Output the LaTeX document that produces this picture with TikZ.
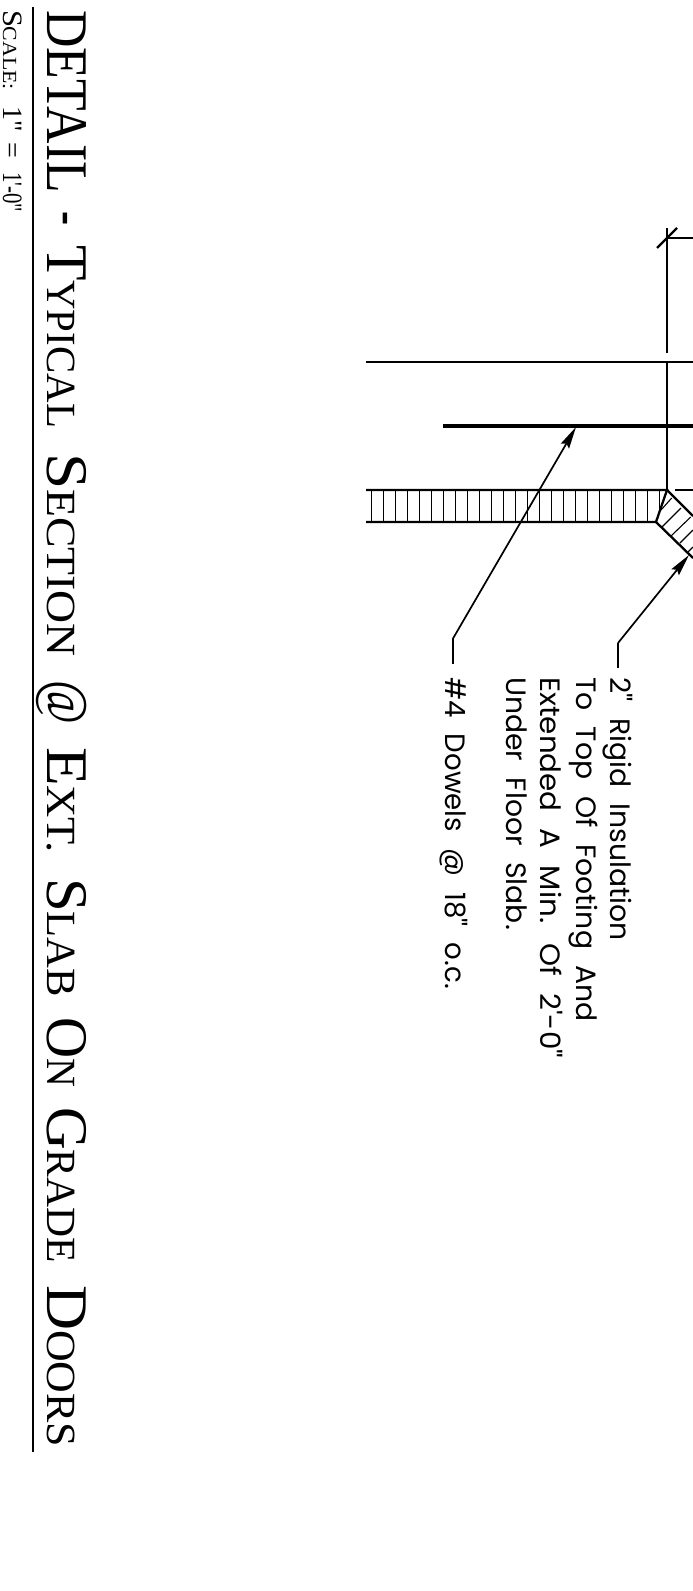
\documentclass[tikz,border=0pt]{standalone}
\usepackage{fontspec}
\usepackage{graphicx}
\usetikzlibrary{arrows.meta}
\setmainfont[Ligatures=TeXOff]{Liberation Serif}
\newfontfamily\notefont[Ligatures=TeXOff,WordSpace=2.2]{Poppins}
\newcommand{\cp}[2]{{\fontsize{#1}{#1}\selectfont #2}}
\newcommand{\fitw}[2]{\resizebox{#1pt}{\height}{#2}}
\tikzset{
  x=1pt,y=-1pt,
  wall/.style={line width=2.3pt,black},
  thickbar/.style={line width=3.4pt,black},
  hatchline/.style={line width=1.1pt,black},
  leader/.style={line width=1.7pt,black},
  leadarrow/.style={leader,-{Stealth[length=22pt,width=9.5pt,inset=3pt]}},
  note/.style={inner sep=0pt,outer sep=0pt,rotate=-90,anchor=base west,font=\notefont\fontsize{28}{28}\selectfont},
  titlelabel/.style={inner sep=0pt,outer sep=0pt,rotate=-90,anchor=base west},
}
\begin{document}
\begin{tikzpicture}
\useasboundingbox (0,0) rectangle (693,1591);
\clip (0,0) rectangle (693,1591);
% key points
\coordinate (p1) at (667,490);
\coordinate (p2) at (656,522);
\coordinate (t1) at (366,490);
\coordinate (t2) at (366,522);
\coordinate (d1) at (693,516);
\coordinate (d2) at (693,558);
% main lines
\draw[wall] (366,362) -- (693,362);
\draw[thickbar] (443,426) -- (693,426);
\draw[wall] (667,362) -- (p1);
\draw[wall] (667,228) -- (667,353);
\draw[wall] (667,238) -- (693,238);
\draw[wall] (657,248) -- (677,228);
\draw[wall] (675,490) -- (693,490);
% insulation
\foreach \i in {0,...,23} \draw[hatchline] ({371.3+12*\i},490) -- ({371.3+12*\i},522);
\draw[hatchline] (659.3,490) -- (659.3,512);
\foreach \a/\b/\c/\e in {671.7/498/661/510,681/508/662/527,690.7/517/671/536,693/530/680/543,693/547/688/552} \draw[hatchline] (\a,\b) -- (\c,\e);
\draw[wall] (t1) -- (p1) -- (p2) -- (t2);
\draw[wall] (p1) -- (d1);
\draw[wall] (p2) -- (d2);
% notes
\node[note] (nd) at (445,677) {\fitw{312}{\#4 Dowels @ 18" o.c.}};
\node[note] (n1) at (610,677) {\fitw{264}{2" Rigid Insulation}};
\node[note] (n2) at (576,677) {\fitw{345}{To Top Of Footing And}};
\node[note] (n3) at (540,677) {\fitw{381}{Extended A Min. Of 2'-0"}};
\node[note] (n4) at (506,677) {\fitw{253}{Under Floor Slab.}};
\coordinate (e1) at (452.7,639);
\coordinate (s1) at (452.7,664);
\coordinate (a1) at (576,427);
\coordinate (e2) at (618,643);
\coordinate (s2) at (618,668);
\coordinate (a2) at (689,555);
\draw[leader] (s1) -- (e1);
\draw[leadarrow] (e1) -- (a1);
\draw[leader] (s2) -- (e2);
\draw[leadarrow] (e2) -- (a2);
% title
\node[titlelabel] (tdetail) at (47,10) {\fitw{183}{\cp{59}{DETAIL}}};
\node[titlelabel] (tdash) at (51,211) {\fitw{14}{\cp{59}{-}}};
\node[titlelabel] (ttyp) at (47,245) {\fitw{183}{\cp{59}{T}\cp{41.5}{YPICAL}}};
\node[titlelabel] (tsec) at (47,453) {\fitw{204}{\cp{59}{S}\cp{41.5}{ECTION}}};
\node[titlelabel] (tat) at (47,680) {\fitw{44}{\cp{59}{@}}};
\node[titlelabel] (text) at (47,747) {\fitw{106}{\cp{59}{E}\cp{41.5}{XT.}}};
\node[titlelabel] (tslab) at (47,878) {\fitw{119}{\cp{59}{S}\cp{41.5}{LAB}}};
\node[titlelabel] (ton) at (47,1017) {\fitw{70}{\cp{59}{O}\cp{41.5}{N}}};
\node[titlelabel] (tgrade) at (47,1107) {\fitw{156}{\cp{59}{G}\cp{41.5}{RADE}}};
\node[titlelabel] (tdoors) at (47,1285) {\fitw{162}{\cp{59}{D}\cp{41.5}{OORS}}};
\coordinate (u1) at (32.7,7);
\coordinate (u2) at (32.7,1452);
\draw[line width=2pt] (u1) -- (u2);
\node[titlelabel] (sscale) at (3,10) {\fitw{80}{\cp{28}{S}\cp{20}{CALE:}}};
\node[titlelabel] (sone) at (3,106) {\cp{28}{1"}};
\node[titlelabel] (seq) at (3,142) {\cp{28}{=}};
\node[titlelabel] (sval) at (3,172) {\fitw{40}{\cp{28}{1'-0"}}};
\end{tikzpicture}
\end{document}
